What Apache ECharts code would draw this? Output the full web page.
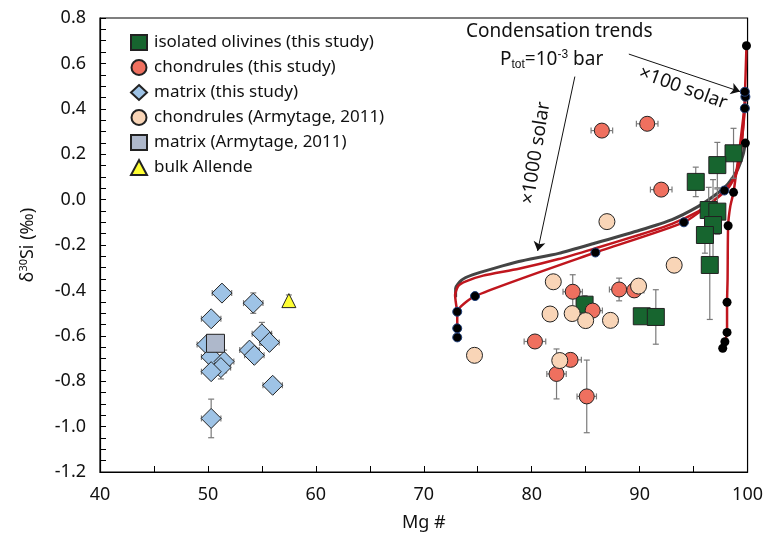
<!DOCTYPE html>
<html>
<head>
<meta charset="utf-8">
<script src="https://cdn.jsdelivr.net/npm/echarts@6/dist/echarts.min.js"></script>
<style>
  html, body { margin: 0; padding: 0; background: #fff; }
  #chart { width: 766px; height: 545px; }
</style>
</head>
<body>
<div id="chart"></div>
<script>
// [Mg#, d30Si, xErr, yErr]
const olivines = [
  [98.7, 0.204, 0, 0.11], [97.2, 0.152, 0, 0.10], [95.2, 0.078, 0, 0.065],
  [96.4, -0.046, 0, 0.10], [97.2, -0.053, 0, 0.10], [96.8, -0.112, 0, 0.20],
  [96.05, -0.156, 0, 0.08], [96.5, -0.288, 0, 0.24],
  [84.9, -0.463, 0, 0.04], [90.2, -0.514, 0, 0.0], [91.5, -0.517, 0, 0.12]
]
const chondrules = [
  [86.5, 0.304, 1.0, 0.02], [90.7, 0.334, 1.0, 0.02], [92.0, 0.044, 1.0, 0.02],
  [83.8, -0.406, 0.9, 0.075], [88.1, -0.396, 0.9, 0.05], [89.5, -0.40, 0.9, 0.03],
  [85.65, -0.489, 0.9, 0.03], [80.3, -0.625, 1.0, 0.02], [83.6, -0.706, 1.0, 0.02],
  [82.3, -0.768, 0.9, 0.11], [85.1, -0.867, 0.9, 0.16]
]
const matrix = [
  [51.3, -0.412, 0.9, 0.02], [54.2, -0.456, 0.9, 0.045], [50.3, -0.525, 0.9, 0.03],
  [55.0, -0.591, 0.9, 0.05], [55.7, -0.629, 0.9, 0.02], [53.85, -0.663, 0.9, 0.03],
  [54.3, -0.686, 0.9, 0.03], [49.9, -0.638, 0.9, 0.03], [50.3, -0.693, 0.9, 0.03],
  [51.5, -0.713, 0.9, 0.05], [51.2, -0.74, 0.9, 0.05], [50.3, -0.758, 0.9, 0.03],
  [56.0, -0.818, 0.9, 0.03], [50.3, -0.964, 0.9, 0.085]
]
const chondrulesArmytage = [
  [86.97, -0.097, 0, 0.02], [93.2, -0.289, 0, 0.02], [82.0, -0.362, 0, 0.02],
  [89.9, -0.381, 0, 0.02], [81.7, -0.504, 0, 0.02], [83.75, -0.502, 0, 0.02],
  [85.0, -0.533, 0, 0.02], [87.3, -0.532, 0, 0.02], [82.6, -0.709, 0, 0.02],
  [74.7, -0.686, 0, 0.0]
]
const matrixArmytage = [[50.7, -0.633, 0, 0]]
const bulkAllende = [[57.5, -0.445, 0, 0.025]]

// condensation curves
const curveGray = [
  [72.95, -0.43], [72.95, -0.39], [73.5, -0.355], [74.5, -0.332], [76.5, -0.303],
  [78.8, -0.273], [82.5, -0.237], [86, -0.19], [90, -0.135], [93, -0.088],
  [95.4, -0.031], [97, 0.02], [98.2, 0.07], [99.1, 0.135], [99.6, 0.2], [99.8, 0.249]
]
const curveRedUpper = [
  [73.1, -0.494], [72.9, -0.42], [73.2, -0.38], [73.9, -0.36], [75.5, -0.335],
  [78.8, -0.305], [82.5, -0.262], [86, -0.213], [90, -0.155], [93, -0.107],
  [95.4, -0.053], [97, 0.0], [98.2, 0.05], [99.0, 0.12], [99.4, 0.22],
  [99.7, 0.40], [99.9, 0.678]
]
const curveRedLower = [
  [73.1, -0.607], [73.1, -0.567], [73.1, -0.494], [74.75, -0.425], [85.9, -0.233],
  [94.1, -0.10], [96.5, -0.02], [97.85, 0.04], [98.8, 0.1], [99.3, 0.2],
  [99.6, 0.32], [99.75, 0.402], [99.8, 0.453], [99.75, 0.475]
]
const curveRed100 = [
  [97.7, -0.655], [97.9, -0.626], [98.1, -0.585], [98.1, -0.452], [98.15, -0.35],
  [98.2, -0.115], [98.4, -0.03], [98.7, 0.032], [98.9, 0.10], [99.2, 0.2],
  [99.5, 0.32], [99.7, 0.40]
]
const dotsBlue = [
  [73.1, -0.607], [73.1, -0.567], [73.1, -0.494], [74.75, -0.425], [85.9, -0.233],
  [94.1, -0.10], [97.85, 0.04], [99.75, 0.402], [99.8, 0.453], [99.75, 0.475]
]
const dotsBlack = [
  [99.9, 0.678], [99.8, 0.249], [98.7, 0.032], [98.2, -0.115], [98.1, -0.452],
  [98.1, -0.585], [97.9, -0.626], [97.7, -0.655]
]
// arrows [from, to]
const arrows = [
  [[89.0, 0.641], [99.3, 0.476]],
  [[84.0, 0.542], [80.55, -0.226]]
]

const FONT = '"Noto Sans", sans-serif'

function errorSeries(data) {
  return {
    type: 'custom',
    silent: true,
    z: 4,
    data: data,
    encode: { x: 0, y: 1 },
    renderItem: (params, api) => {
      const x = api.value(0), y = api.value(1), xe = api.value(2), ye = api.value(3)
      const children = []
      const style = { stroke: '#7a7a7a', lineWidth: 1.2 }
      const cap = 3
      if (xe > 0) {
        const a = api.coord([x - xe, y]), b = api.coord([x + xe, y])
        children.push({ type: 'line', shape: { x1: a[0], y1: a[1], x2: b[0], y2: b[1] }, style })
        children.push({ type: 'line', shape: { x1: a[0], y1: a[1] - cap, x2: a[0], y2: a[1] + cap }, style })
        children.push({ type: 'line', shape: { x1: b[0], y1: b[1] - cap, x2: b[0], y2: b[1] + cap }, style })
      }
      if (ye > 0) {
        const a = api.coord([x, y - ye]), b = api.coord([x, y + ye])
        children.push({ type: 'line', shape: { x1: a[0], y1: a[1], x2: b[0], y2: b[1] }, style })
        children.push({ type: 'line', shape: { x1: a[0] - cap, y1: a[1], x2: a[0] + cap, y2: a[1] }, style })
        children.push({ type: 'line', shape: { x1: b[0] - cap, y1: b[1], x2: b[0] + cap, y2: b[1] }, style })
      }
      return { type: 'group', children }
    }
  }
}

function curve(data, color, width) {
  return {
    type: 'line', data: data, symbol: 'none', silent: true, z: 2,
    lineStyle: { color: color, width: width }, smooth: 0.2
  }
}

function points(name, data, symbol, size, color) {
  return {
    name: name, type: 'scatter', data: data, symbol: symbol, symbolSize: size, z: 5,
    itemStyle: { color: color, borderColor: '#222', borderWidth: 1, opacity: 1 }
  }
}

const chart = echarts.init(document.getElementById('chart'))

chart.setOption({
  animation: false,
  textStyle: { fontFamily: FONT },
  grid: {
    left: 100, right: 16, top: 18, bottom: 73,
    show: true, borderColor: '#000', borderWidth: 1.2
  },
  legend: {
    orient: 'vertical', left: 130, top: 34, padding: 0,
    itemWidth: 16, itemHeight: 15, itemGap: 8,
    textStyle: { fontSize: 17, lineHeight: 17, color: '#111', fontFamily: FONT, padding: [0, 0, 0, 2] },
    data: [
      'isolated olivines (this study)', 'chondrules (this study)', 'matrix (this study)',
      'chondrules (Armytage, 2011)', 'matrix (Armytage, 2011)', 'bulk Allende'
    ]
  },
  xAxis: {
    type: 'value', min: 40, max: 100, interval: 10,
    name: 'Mg #', nameLocation: 'middle', nameGap: 42,
    nameTextStyle: { fontSize: 18, color: '#111' },
    axisLine: { onZero: false, lineStyle: { color: '#000', width: 1.2 } },
    axisTick: { inside: true, length: 6, lineStyle: { color: '#000' } },
    minorTick: { show: true, splitNumber: 2, length: 6, lineStyle: { color: '#000' } },
    axisLabel: { fontSize: 18, color: '#111', margin: 14 },
    splitLine: { show: false }
  },
  yAxis: {
    type: 'value', min: -1.2, max: 0.8, interval: 0.2,
    name: 'δ{sup|30}Si (‰)', nameLocation: 'middle', nameGap: 62, nameRotate: 90,
    nameTextStyle: {
      fontSize: 18, color: '#111',
      rich: { sup: { fontSize: 11, verticalAlign: 'top', padding: [0, 0, 9, 0] } }
    },
    axisLine: { onZero: false, lineStyle: { color: '#000', width: 1.2 } },
    axisTick: { inside: true, length: 6, lineStyle: { color: '#000' } },
    minorTick: { show: true, splitNumber: 4, length: 6, lineStyle: { color: '#000' } },
    axisLabel: { fontSize: 18, color: '#111', margin: 14, formatter: v => v.toFixed(1) },
    splitLine: { show: false }
  },
  graphic: [
    { type: 'text', left: 466, top: 22, style: { text: 'Condensation trends', font: '19px ' + FONT, fill: '#111' } },
    {
      type: 'text', left: 500, top: 49,
      style: {
        text: 'P{sub|tot}=10{sup|-3} bar', font: '19px ' + FONT, fill: '#111',
        rich: {
          sub: { fontSize: 12, padding: [11, 0, 0, 0] },
          sup: { fontSize: 12, padding: [0, 0, 9, 0] }
        }
      }
    },
    {
      type: 'text', x: 683, y: 88, rotation: -20 * Math.PI / 180,
      style: { text: '×100 solar', font: '19px ' + FONT, fill: '#111', align: 'center', verticalAlign: 'middle' }
    },
    {
      type: 'text', x: 536, y: 153, rotation: 81 * Math.PI / 180,
      style: { text: '×1000 solar', font: '19px ' + FONT, fill: '#111', align: 'center', verticalAlign: 'middle' }
    }
  ],
  series: [
    curve(curveGray, '#444', 3),
    curve(curveRedUpper, '#c0161e', 2.5),
    curve(curveRedLower, '#c0161e', 2.5),
    curve(curveRed100, '#c0161e', 2.5),
    {
      type: 'scatter', data: dotsBlack, symbolSize: 9, silent: true, z: 3,
      itemStyle: { color: '#000', opacity: 1 }
    },
    {
      type: 'scatter', data: dotsBlue, symbolSize: 9, silent: true, z: 3,
      itemStyle: { color: '#000', borderColor: '#1f3f7a', borderWidth: 1, opacity: 1 }
    },
    {
      type: 'line', data: [], silent: true,
      markLine: {
        silent: true, symbol: ['none', 'arrow'], symbolSize: 9,
        label: { show: false },
        lineStyle: { color: '#111', width: 1, type: 'solid' },
        data: arrows.map(a => [{ coord: a[0] }, { coord: a[1] }])
      }
    },
    errorSeries(olivines),
    errorSeries(chondrules),
    errorSeries(matrix),
    errorSeries(chondrulesArmytage),
    errorSeries(bulkAllende),
    points('isolated olivines (this study)', olivines, 'rect', 17, '#17652f'),
    points('chondrules (this study)', chondrules, 'circle', 15, '#ef705f'),
    points('matrix (this study)', matrix, 'diamond', 20, '#9ec3e6'),
    points('chondrules (Armytage, 2011)', chondrulesArmytage, 'circle', 16, '#f9d5b7'),
    points('matrix (Armytage, 2011)', matrixArmytage, 'rect', 18, '#aeb8cb'),
    points('bulk Allende', bulkAllende, 'triangle', 14, '#ffff33')
  ]
})
</script>
</body>
</html>
